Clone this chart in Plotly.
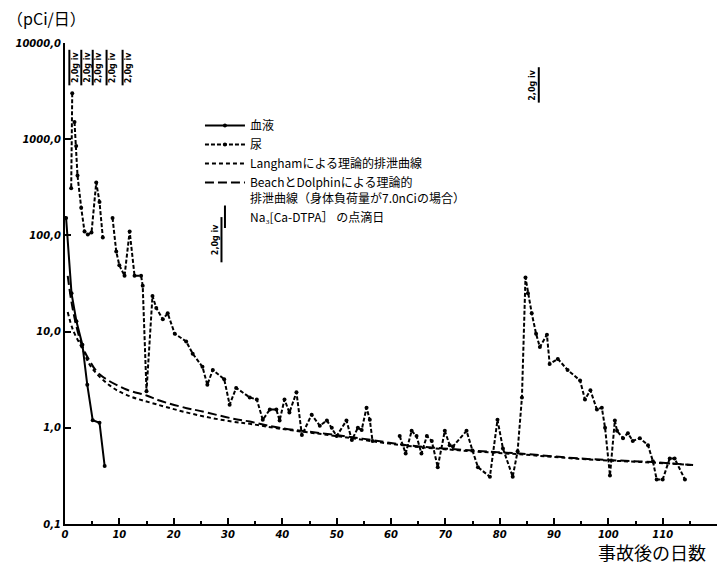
import math
import plotly.graph_objects as go

# ---------------- data ----------------
blood_day = [0.2, 1.2, 2.1, 3.2, 4.1, 5.1, 6.35, 7.3]
blood_val = [152, 25, 12.8, 7.3, 2.8, 1.2, 1.13, 0.4]

urine_day = [1.33, 1.14, None,
             1.75, 2.06, 2.3, 2.98, 3.59, 4.2, 4.88, 5.75, 6.35, 6.96, None,
             8.75, 9.43, 10.0, 10.96, 11.9, 12.8, 14.0, 14.3, 15.0, 16.1, 16.8, 18.0, 18.9,
             20.2, 22.3, 23.5, 25.3, 26.2, 27.2, 29.3, 30.3, 31.5, 34.0, 35.3, 36.4, 37.7,
             38.9, 39.5, 40.4, 41.3, 42.6, 43.6, 45.4, 46.9, 48.2, 49.1, 50.0, 51.8, 52.8,
             53.9, 54.6, 55.5, 56.1, 56.6, None,
             61.6, 62.7, 63.8, 64.7, 65.6, 66.6, 67.5, 68.6, 69.9, 70.8, 71.4, 73.9, 75.0,
             76.0, 78.2, 79.6, 80.6, 82.4, 83.3, 84.1, 84.75, 85.2, 85.9, 86.7, 87.4, 88.7,
             89.2, 90.7, 92.5, 94.8, 95.7, 96.7, 97.9, 98.8, 99.4, 100.3, 101.2, 101.6,
             102.7, 103.6, 104.5, 105.8, 107.3, 108.2, 108.9, 110.0, 111.3, 112.2, 114.1]
urine_val = [3000, 310, None,
             1510, 850, 420, 194, 110, 102, 107, 355, 223, 95, None,
             152, 68, 49, 38, 110, 38, 38, 30, 2.4, 23.5, 17.6, 13.4, 15.5,
             9.5, 7.9, 5.9, 4.3, 2.8, 4.0, 3.2, 1.74, 2.6, 2.07, 1.97, 1.21, 1.55,
             1.55, 1.19, 1.97, 1.44, 2.34, 0.84, 1.37, 1.05, 1.19, 1.0, 0.82, 1.19, 0.745,
             1.0, 0.95, 1.62, 1.21, 0.73, None,
             0.82, 0.54, 0.93, 0.82, 0.54, 0.82, 0.73, 0.39, 0.93, 0.66, 0.64, 0.93, 0.58,
             0.39, 0.31, 1.21, 0.61, 0.31, 0.57, 2.07, 36.6, 25, 15.5, 9.5, 6.9, 9.3,
             4.6, 5.2, 4.0, 3.1, 1.97, 2.45, 1.55, 1.62, 1.0, 0.32, 1.19, 0.93,
             0.78, 0.88, 0.73, 0.78, 0.66, 0.45, 0.29, 0.29, 0.48, 0.48, 0.29]

langham_day = [0.5, 1.44, 3.2, 4.8, 8.2, 11.3, 16.9, 24.8, 30.8, 34, 39.5, 50,
               62.9, 75, 83.7, 94.7, 100.8, 108.2, 115.6]
langham_val = [16, 10.5, 6.6, 4.3, 2.76, 2.2, 1.75, 1.34, 1.16, 1.1, 0.98, 0.82,
               0.65, 0.57, 0.53, 0.475, 0.455, 0.435, 0.41]

beach_day = [0.5, 1.44, 3.0, 4.5, 6.35, 11.3, 15.0, 17.4, 22.4, 24.8, 30.8, 34,
             39.5, 50, 56.6, 62.9, 75, 83.7, 94.7, 100.8, 108.2, 115.6]
beach_val = [38, 17, 7.5, 5.0, 3.6, 2.5, 2.17, 1.92, 1.6, 1.5, 1.25, 1.16,
             1.0, 0.84, 0.745, 0.66, 0.58, 0.54, 0.48, 0.46, 0.44, 0.41]

# Na3[Ca-DTPA] infusion days and the vertical extent of each marker
dtpa_day = [0.8, 3.0, 5.1, 7.65, 10.6, 28.8, 87.2]
dtpa_low = [3630, 3630, 3630, 3630, 3630, 52.5, 2400]
dtpa_high = [8500, 8500, 8500, 8500, 8500, 155, 5600]
dtpa_label = "2,0g iv"

y_tickvals = [0.1, 1, 10, 100, 1000, 10000]
y_ticktext = ["0,1", "1,0", "10,0", "100,0", "1000,0", "10000,0"]
x_tickvals = list(range(0, 121, 10))

names = ["血液", "尿", "Langhamによる理論的排泄曲線",
         "BeachとDolphinによる理論的<br>排泄曲線（身体負荷量が7.0nCiの場合）",
         "Na₃[Ca-DTPA］ の点滴日"]

# ---------------- figure ----------------
fig = go.Figure()
fig.add_trace(go.Scatter(x=blood_day, y=blood_val, name=names[0], mode="lines+markers",
                         line=dict(color="black", width=2),
                         marker=dict(color="black", size=4)))
fig.add_trace(go.Scatter(x=urine_day, y=urine_val, name=names[1], mode="lines+markers",
                         connectgaps=False,
                         line=dict(color="black", width=2, dash="4px,2px"),
                         marker=dict(color="black", size=4)))
fig.add_trace(go.Scatter(x=langham_day, y=langham_val, name=names[2], mode="lines",
                         line=dict(color="black", width=2, dash="4px,3px", shape="spline")))
fig.add_trace(go.Scatter(x=beach_day, y=beach_val, name=names[3], mode="lines",
                         line=dict(color="black", width=2, dash="9px,4px", shape="spline")))

# DTPA vertical markers
dx, dy = [], []
for d, lo, hi in zip(dtpa_day, dtpa_low, dtpa_high):
    dx += [d, d, None]
    dy += [lo, hi, None]
fig.add_trace(go.Scatter(x=dx, y=dy, mode="lines", showlegend=False, hoverinfo="skip",
                         line=dict(color="black", width=2)))
# legend entry for DTPA
fig.add_trace(go.Scatter(x=[None], y=[None], name=names[4], mode="markers",
                         marker=dict(symbol="line-ns-open", size=16, color="black",
                                     line=dict(color="black", width=2))))

for i, (d, lo, hi) in enumerate(zip(dtpa_day, dtpa_low, dtpa_high)):
    mid = (math.log10(lo) + math.log10(hi)) / 2
    right = i < 5
    fig.add_annotation(x=d, y=mid, text=dtpa_label, showarrow=False, textangle=-90,
                       xshift=6 if right else -6,
                       font=dict(family="DejaVu Sans", size=8, color="black", weight="bold"))

fig.add_annotation(xref="paper", yref="paper", x=-0.092, y=1.052, xanchor="left",
                   yanchor="middle", showarrow=False, text="（pCi/日）",
                   font=dict(family="Noto Sans CJK JP", size=16, color="black"))
fig.add_annotation(xref="paper", yref="paper", x=0.9, y=-0.058, xanchor="center",
                   yanchor="middle", showarrow=False, text="事故後の日数",
                   font=dict(family="Noto Sans CJK JP", size=18, color="black"))

tickfont = dict(family="DejaVu Sans", size=10, color="black", style="italic", weight="bold")
fig.update_xaxes(range=[0, 120], tickvals=x_tickvals, showline=True, linewidth=2,
                 linecolor="black", ticks="inside", ticklen=6, tickwidth=1.5,
                 tickcolor="black", showgrid=False, zeroline=False, tickfont=tickfont,
                 minor=dict(dtick=5, ticks="inside", ticklen=3, tickcolor="black",
                            showgrid=False))
fig.update_yaxes(type="log", range=[-1, 4], tickvals=y_tickvals, ticktext=y_ticktext,
                 showline=True, linewidth=2, linecolor="black", ticks="inside",
                 ticklen=6, tickwidth=1.5, tickcolor="black", showgrid=False,
                 zeroline=False, tickfont=tickfont)

fig.update_layout(
    width=727, height=572,
    margin=dict(l=65, r=10, t=43, b=48),
    paper_bgcolor="white", plot_bgcolor="white",
    showlegend=True,
    legend=dict(x=0.207, y=0.858, xanchor="left", yanchor="top",
                font=dict(family="Noto Sans CJK JP", size=12, color="black"),
                bgcolor="rgba(0,0,0,0)", itemwidth=40, valign="top",
                tracegroupgap=0, traceorder="normal"),
)

fig.write_html("out.html")
